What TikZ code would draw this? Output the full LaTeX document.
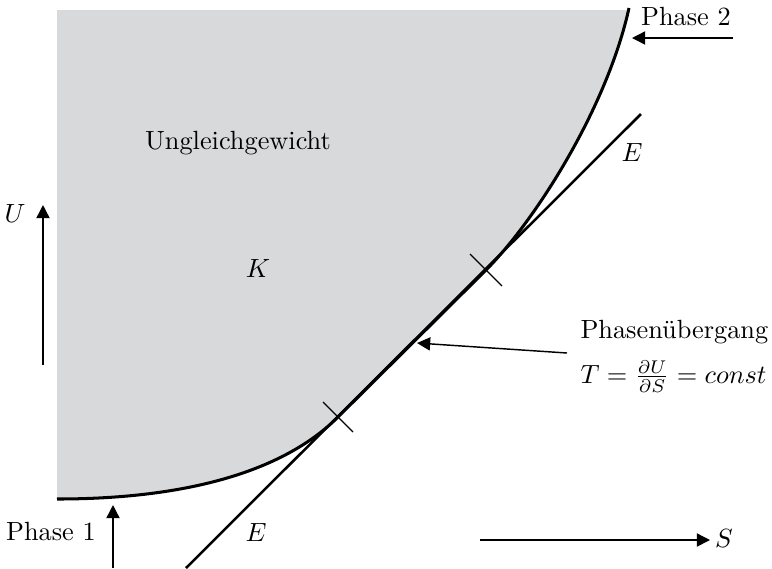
\documentclass[tikz,border=0pt]{standalone}
\usetikzlibrary{arrows.meta}
\definecolor{flaecheGrau}{RGB}{216,217,219}

\begin{document}
\begin{tikzpicture}[x=0.38pt, y=-0.38pt,
      rand/.style={line width=1.15pt},
      gerade/.style={line width=0.95pt},
      marke/.style={line width=0.5pt},
      pfeil/.style={line width=0.55pt, -{Triangle[length=5pt,width=5pt]}},
      every node/.style={inner sep=0pt}]
    \useasboundingbox (0,0) rectangle (772,568);
    % Punkte der Randkurve
    \coordinate (rl) at (57,499);
    \coordinate (t1) at (338,417);
    \coordinate (t2) at (486,270);
    \coordinate (ro) at (629,8);
    \begin{scope}
      \clip (0,10) rectangle (772,568);
      \fill[flaecheGrau] (57,0) -- (rl) .. controls (190,499) and (285,470) .. (t1)
        -- (t2) .. controls (535,221) and (607,108) .. (ro) -- (629,0) -- cycle;
    \end{scope}
    \draw[rand] (rl) .. controls (190,499) and (285,470) .. (t1)
      -- (t2) .. controls (535,221) and (607,108) .. (ro);
    % Gerade E
    \coordinate (eu) at (186,568);
    \coordinate (eo) at (641,114);
    \draw[gerade] (eu) -- (eo);
    \draw[marke] (323,402) -- (353,432);
    \draw[marke] (470,254) -- (502,286);
    % Beschriftungen
    \node (ungl) at (238,143) {Ungleichgewicht};
    \node (k)    at (258,268) {$K$};
    \node (eoben) at (632,152) {$E$};
    \node (eunten) at (256,532) {$E$};
    \node (ph2) at (686,17) {Phase 2};
    \node (ph1) at (51,532) {Phase 1};
    \node (u) at (15,213) {$U$};
    \node (s) at (724,538) {$S$};
    \node[anchor=north west, align=left] (pue) at (580,320)
      {Phasen\"ubergang\\[5pt] $T=\frac{\partial U}{\partial S}=const$};
    % Pfeile
    \coordinate (ph2a) at (733,38);
    \coordinate (ph2b) at (632,38);
    \coordinate (ph1a) at (113,568);
    \coordinate (ph1b) at (113,505);
    \coordinate (ua) at (43,365);
    \coordinate (ub) at (43,205);
    \coordinate (sa) at (480,540);
    \coordinate (sb) at (710,540);
    \coordinate (puea) at (567,353);
    \coordinate (pueb) at (417,343);
    \draw[pfeil] (ph2a) -- (ph2b);
    \draw[pfeil] (ph1a) -- (ph1b);
    \draw[pfeil] (ua) -- (ub);
    \draw[pfeil] (sa) -- (sb);
    \draw[pfeil] (puea) -- (pueb);
  \end{tikzpicture}
\end{document}
